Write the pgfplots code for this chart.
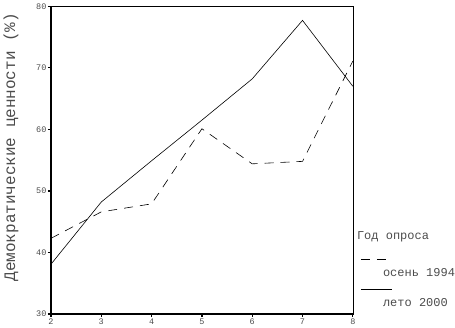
\documentclass[border=0pt]{standalone}
\usepackage{pgfplots}
\pgfplotsset{compat=1.18}
\usepackage{fontspec}
\setmainfont{Liberation Mono}
\begin{document}
\begin{tikzpicture}[x=1pt,y=1pt]
\path (0,0) rectangle (455,326);
\begin{axis}[
  at={(51pt,13pt)}, anchor=south west,
  scale only axis, width=302pt, height=308pt,
  xmin=2, xmax=8, ymin=30, ymax=80,
  xtick={2,...,8}, ytick={30,40,...,80},
  tick align=outside, tick pos=left,
  major tick length=3pt,
  every tick/.style={black, line width=1.2pt},
  axis line style={line width=0.5pt},
  ticklabel style={font=\fontsize{8.5}{8.5}\selectfont, text=black!70},
  /pgf/number format/assume math mode=true,
  xticklabel shift=-2pt, yticklabel shift=-2pt,
  clip=false,
]
\addplot[black, line width=0.6pt, dashed, dash pattern=on 9pt off 7pt] coordinates {
  (2,42.3) (3,46.6) (4,47.9) (5,60.1) (6,54.4) (7,54.8) (8,71.1)};
\addplot[black, line width=0.6pt] coordinates {
  (2,38.1) (3,48.2) (4,54.9) (5,61.5) (6,68.2) (7,77.7) (8,67.0)};
\end{axis}
\draw[line width=1.4pt] (51,13) -- (51,321);
\draw[line width=1.4pt] (51,13) -- (353,13);
\node[rotate=90, anchor=north, font=\fontsize{16}{16}\selectfont, text=black!70] at (0,180) {Демократические ценности (\%)};
\node[anchor=west, font=\fontsize{12}{12}\selectfont, text=black!70, inner sep=0] at (357,90) {Год опроса};
\draw[black, line width=0.6pt, dash pattern=on 9pt off 7pt] (361,68) -- (392,68);
\node[anchor=west, font=\fontsize{12}{12}\selectfont, text=black!70, inner sep=0] at (383,55) {осень 1994};
\draw[black, line width=0.6pt] (361,38) -- (392,38);
\node[anchor=west, font=\fontsize{12}{12}\selectfont, text=black!70, inner sep=0] at (383,25) {лето 2000};
\end{tikzpicture}
\end{document}
